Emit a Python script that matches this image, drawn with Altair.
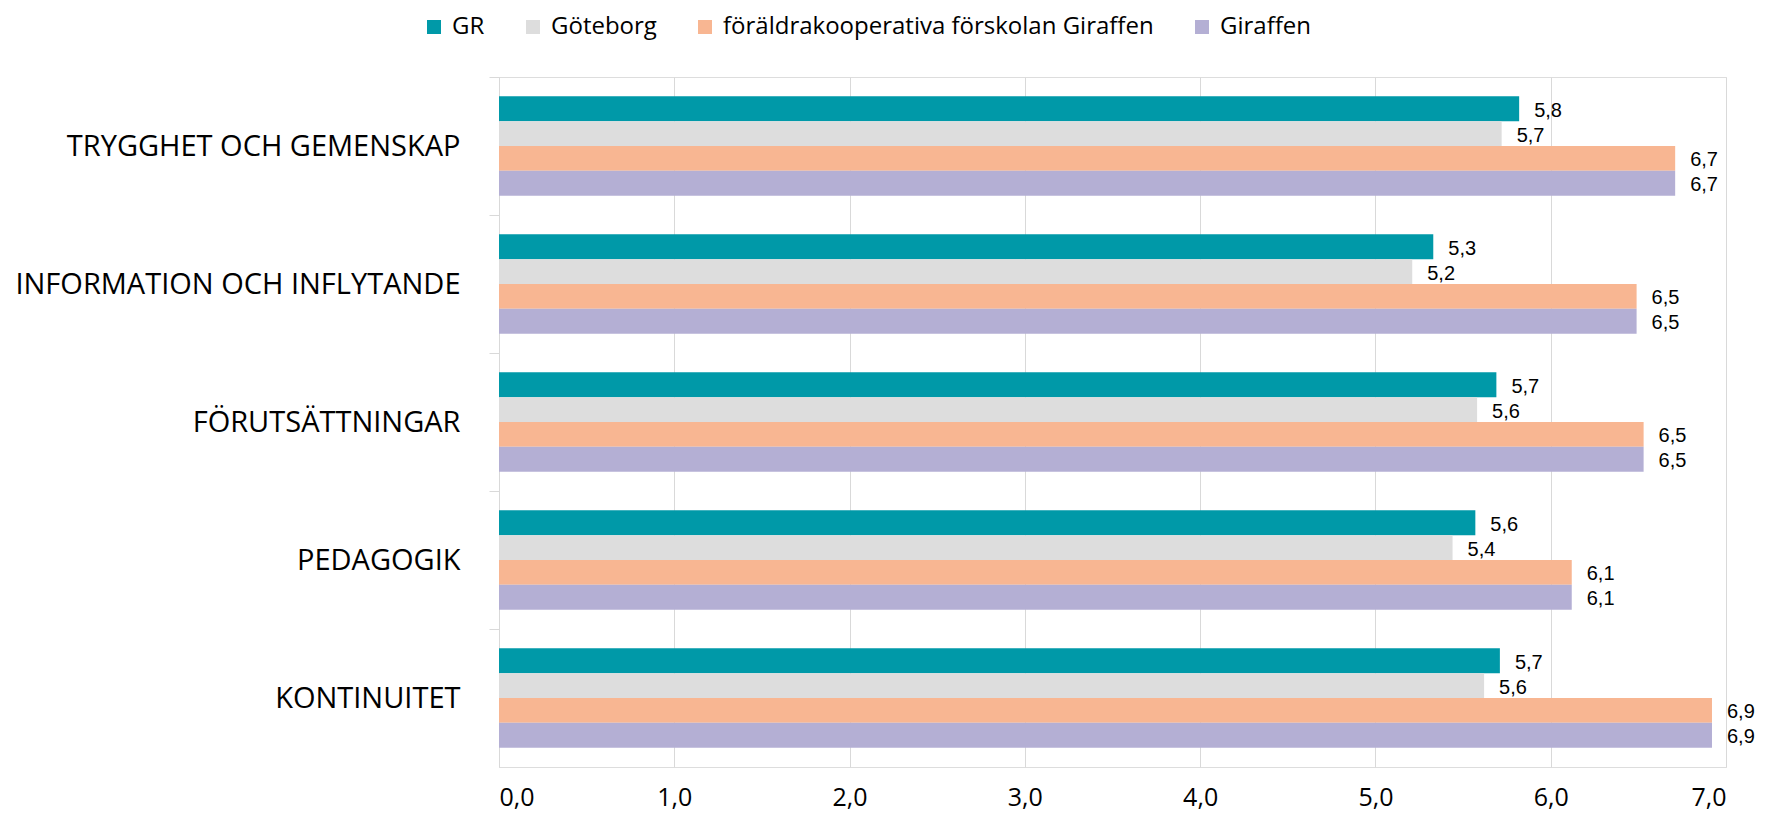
import altair as alt
import pandas as pd

categories = ["TRYGGHET OCH GEMENSKAP", "INFORMATION OCH INFLYTANDE", "FÖRUTSÄTTNINGAR", "PEDAGOGIK", "KONTINUITET"]
series = ["GR", "Göteborg", "föräldrakooperativa förskolan Giraffen", "Giraffen"]
gr = [5.82, 5.33, 5.69, 5.57, 5.71]
goteborg = [5.72, 5.21, 5.58, 5.44, 5.62]
foraldrakoop = [6.71, 6.49, 6.53, 6.12, 6.92]
giraffen = [6.71, 6.49, 6.53, 6.12, 6.92]
colors = ["#0099A8", "#DDDDDD", "#F8B692", "#B4AFD4"]
x_ticks = [0, 1, 2, 3, 4, 5, 6, 7]

rows = []
for s, vals in zip(series, [gr, goteborg, foraldrakoop, giraffen]):
    for c, v in zip(categories, vals):
        rows.append({"kategori": c, "serie": s, "varde": v})
df = pd.DataFrame(rows)

y_enc = alt.Y(
    "kategori:N",
    sort=categories,
    scale=alt.Scale(paddingInner=0.28, paddingOuter=0.14),
    axis=alt.Axis(
        title=None, ticks=True, tickSize=10, tickColor="#D9D9D9", tickWidth=1,
        bandPosition=0, tickOffset=-19, labelOffset=19,
        domainColor="#D9D9D9", domainWidth=1,
        labelFont="Open Sans", labelFontSize=29, labelColor="#000000",
        labelPadding=29, labelLimit=600,
    ),
)
yoff_enc = alt.YOffset("serie:N", sort=series, scale=alt.Scale(domain=series))

bars = alt.Chart(df).mark_bar().encode(
    x=alt.X(
        "varde:Q",
        scale=alt.Scale(domain=[0, 7], nice=False),
        axis=alt.Axis(
            title=None, values=x_ticks, domain=False, ticks=False,
            gridColor="#D9D9D9", gridWidth=1,
            labelExpr="replace(format(datum.value, '.1f'), '.', ',')",
            labelFont="Open Sans", labelFontSize=25, labelColor="#000000",
            labelPadding=18,
        ),
    ),
    y=y_enc,
    yOffset=yoff_enc,
    color=alt.Color(
        "serie:N",
        sort=series,
        scale=alt.Scale(domain=series, range=colors),
        legend=alt.Legend(
            title=None, orient="none", direction="horizontal",
            legendX=-77, legendY=-62,
            symbolType="square", symbolSize=196, symbolStrokeWidth=0,
            symbolOpacity=1,
            labelFont="Open Sans", labelFontSize=24, labelColor="#000000",
            labelOffset=6, columnPadding=36, labelLimit=800,
        ),
    ),
)

labels = alt.Chart(df).mark_text(
    align="left", baseline="middle", dx=15, dy=2,
    font="Liberation Sans", fontSize=20, color="#000000",
).transform_calculate(
    etikett="replace(format(datum.varde, '.1f'), '.', ',')"
).encode(
    x=alt.X("varde:Q"),
    y=alt.Y("kategori:N", sort=categories),
    yOffset=alt.YOffset("serie:N", sort=series),
    text="etikett:N",
)

chart = alt.layer(bars, labels).properties(
    width=1227, height=690,
    autosize=alt.AutoSizeParams(type="none"),
    padding={"left": 491, "top": 69, "right": 30, "bottom": 46},
).configure_view(stroke=None).configure(background="#FFFFFF")

chart.save("out.html", embed_options={"renderer": "svg", "actions": False})
